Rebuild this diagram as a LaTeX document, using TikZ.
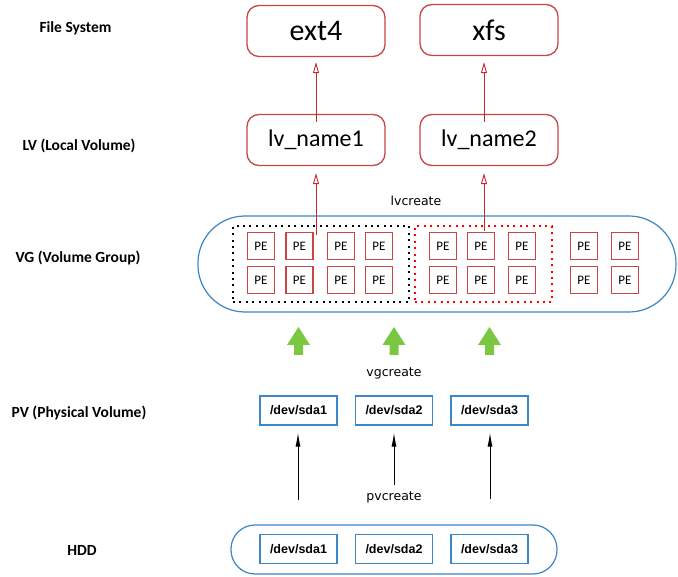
\documentclass[tikz,border=0pt]{standalone}
\usepackage{fontspec}
\setmainfont{Carlito}
\newfontfamily\dejavu{DejaVu Sans}
\newfontfamily\libsans{Liberation Sans}
\usetikzlibrary{arrows.meta}
\definecolor{boxred}{RGB}{200,70,70}
\definecolor{arrred}{RGB}{192,40,50}
\definecolor{lineblue}{RGB}{60,135,200}
\definecolor{arrgreen}{RGB}{122,200,66}
\tikzset{
  fsbox/.style={draw=boxred, line width=1.3pt, rounded corners=12pt, minimum width=138pt, minimum height=51pt, inner sep=0pt, font=\fontsize{30}{32}\selectfont},
  lvbox/.style={fsbox, font=\fontsize{24}{26}\selectfont},
  pebox/.style={draw=boxred, line width=1.3pt, minimum size=27pt, inner sep=0pt, font=\fontsize{13}{14}\selectfont},
  devbox/.style={draw=lineblue, line width=1.1pt, minimum width=77pt, minimum height=29pt, inner sep=0pt, font=\libsans\bfseries\fontsize{12.5}{14}\selectfont},
  layerlabel/.style={font=\bfseries\fontsize{15.5}{17}\selectfont},
  cmdlabel/.style={font=\dejavu\fontsize{12.5}{14}\selectfont},
  redarrow/.style={draw=arrred, line width=0.9pt, -{Triangle[open,length=11pt,width=6pt]}},
  blackarrow/.style={draw=black, line width=1pt, -{Latex[length=14pt,width=5pt]}},
  container/.style={draw=lineblue, line width=1.2pt, inner sep=0pt},
  dotgroup/.style={line width=2pt, dash pattern=on 2pt off 4.4pt, inner sep=0pt, minimum height=76pt}
}
\begin{document}
\begin{tikzpicture}[x=1pt,y=-1pt]
\useasboundingbox[fill=white] (0,0) rectangle (678,577);

% layer labels
\node[layerlabel] (lblfs) at (75.5,28) {File System};
\node[layerlabel] (lbllv) at (79,146) {LV (Local Volume)};
\node[layerlabel] (lblvg) at (78,258) {VG (Volume Group)};
\node[layerlabel] (lblpv) at (79,413) {PV (Physical Volume)};
\node[layerlabel] (lblhdd) at (82,550) {HDD};

% file systems and logical volumes
\node[fsbox] (fs1) at (316,31) {ext4};
\node[fsbox] (fs2) at (489,30) {xfs};
\node[lvbox] (lv1) at (316,140) {lv\_name1};
\node[lvbox] (lv2) at (489,140) {lv\_name2};

% volume group
\node[container, rounded corners=47pt, minimum width=478pt, minimum height=96pt] (vg) at (437,264) {};
\node[dotgroup, draw=black, minimum width=176pt] (grp1) at (321,264) {};
\node[dotgroup, draw=red, minimum width=137pt] (grp2) at (483.5,264) {};

\foreach \x [count=\i] in {261,299.5,341,379,443,481,522,584,625}{
  \node[pebox] (pea\i) at (\x,246) {PE};
  \node[pebox] (peb\i) at (\x,280) {PE};
}

\node[cmdlabel] (lvcreate) at (416,201) {lvcreate};

\coordinate (src1) at (316,235);
\coordinate (src2) at (484,231);
\draw[redarrow] (src1) -- ([yshift=-7pt]lv1.south -| src1);
\draw[redarrow] (src2) -- ([yshift=-7pt]lv2.south -| src2);
\draw[redarrow] ([yshift=-8pt]lv1.north -| src1) -- ([yshift=-5pt]fs1.south -| src1);
\draw[redarrow] ([yshift=-8pt]lv2.north -| src2) -- ([yshift=-6pt]fs2.south -| src2);

% green arrows
\foreach \x in {298.5,394,489.5}{
  \fill[arrgreen] (\x,327) -- (\x+11.5,345) -- (\x+4.5,345) -- (\x+4.5,355) -- (\x-4.5,355) -- (\x-4.5,345) -- (\x-11.5,345) -- cycle;
}
\node[cmdlabel] (vgcreate) at (394,373) {vgcreate};

% physical volumes
\node[devbox] (pv1) at (298.5,410.5) {/dev/sda1};
\node[devbox] (pv2) at (394,410.5) {/dev/sda2};
\node[devbox] (pv3) at (489.5,410.5) {/dev/sda3};

% HDD
\node[container, rounded corners=24pt, minimum width=326pt, minimum height=49pt] (hdd) at (394,549.5) {};
\node[devbox] (hd1) at (298.5,549) {/dev/sda1};
\node[devbox] (hd2) at (394,549) {/dev/sda2};
\node[devbox] (hd3) at (489.5,549) {/dev/sda3};

\node[cmdlabel] (pvcreate) at (394,497) {pvcreate};

\coordinate (b1) at (298,500);
\coordinate (b2) at (394,485);
\coordinate (b3) at (490,499);
\draw[blackarrow] (b1) -- ([yshift=-7pt]pv1.south -| b1);
\draw[blackarrow] (b2) -- ([yshift=-7pt]pv2.south -| b2);
\draw[blackarrow] (b3) -- ([yshift=-7pt]pv3.south -| b3);
\end{tikzpicture}
\end{document}
